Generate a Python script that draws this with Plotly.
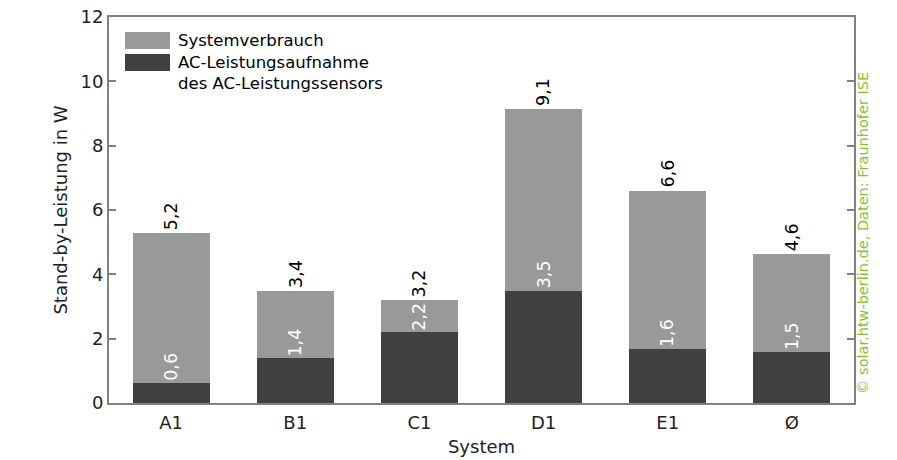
import plotly.graph_objects as go

categories = ["A1", "B1", "C1", "D1", "E1", "Ø"]
ac_sensor = [0.63, 1.39, 2.2, 3.49, 1.67, 1.58]
total = [5.28, 3.49, 3.2, 9.13, 6.6, 4.62]
system_rest = [t - a for t, a in zip(total, ac_sensor)]
total_labels = ["5,2", "3,4", "3,2", "9,1", "6,6", "4,6"]
ac_labels = ["0,6", "1,4", "2,2", "3,5", "1,6", "1,5"]
y_ticks = [0, 2, 4, 6, 8, 10, 12]

FONT = "DejaVu Sans"
GREY = "#999999"
DARK = "#404040"
AXIS = "#808080"

fig = go.Figure()
fig.add_trace(go.Bar(x=categories, y=ac_sensor, marker=dict(color=DARK, line=dict(width=0)),
                     name="AC-Leistungsaufnahme des AC-Leistungssensors", showlegend=False))
fig.add_trace(go.Bar(x=categories, y=system_rest, marker=dict(color=GREY, line=dict(width=0)),
                     name="Systemverbrauch", showlegend=False))

annotations = []
for c, t, lab in zip(categories, total, total_labels):
    annotations.append(dict(x=c, y=t, text=lab, textangle=-90, showarrow=False,
                            xanchor="center", yanchor="bottom", yshift=1,
                            font=dict(family=FONT, size=17.5, color="#000000")))
for c, a, lab in zip(categories, ac_sensor, ac_labels):
    annotations.append(dict(x=c, y=a, text=lab, textangle=-90, showarrow=False,
                            xanchor="center", yanchor="bottom", yshift=0,
                            font=dict(family=FONT, size=17.5, color="#ffffff")))

# legend (drawn manually)
legend_items = [("Systemverbrauch", GREY), ("AC-Leistungsaufnahme<br>des AC-Leistungssensors", DARK)]
shapes = []
lx0, lx1 = 125, 170
ly = [32, 54]
W, H = 897, 460
ml, mr, mt, mb = 109, 43, 17, 57
pw, ph = W - ml - mr, H - mt - mb
def px(x):
    return (x - ml) / pw
def py(y):
    return 1 - (y - mt) / ph
for (txt, col), y0 in zip(legend_items, ly):
    shapes.append(dict(type="rect", xref="paper", yref="paper",
                       x0=px(lx0), x1=px(lx1), y0=py(y0 + 17), y1=py(y0),
                       fillcolor=col, line=dict(width=0)))
    annotations.append(dict(xref="paper", yref="paper", x=px(176), y=py(y0 - 3),
                            text=txt, showarrow=False, xanchor="left", yanchor="top", align="left",
                            font=dict(family=FONT, size=16.5, color="#000000")))

annotations.append(dict(xref="paper", yref="paper", x=px(863), y=py(233),
                        text="© solar.htw-berlin.de, Daten: Fraunhofer ISE", textangle=-90,
                        showarrow=False, xanchor="center", yanchor="middle",
                        font=dict(family=FONT, size=14.5, color="#86c232")))

fig.update_layout(
    barmode="stack", bargap=0.38,
    width=W, height=H,
    margin=dict(l=ml, r=mr, t=mt, b=mb, pad=0, autoexpand=False),
    paper_bgcolor="white", plot_bgcolor="white",
    font=dict(family=FONT, size=18, color="#222222"),
    annotations=annotations, shapes=shapes,
    xaxis=dict(title=dict(text="System", standoff=9, font=dict(size=18)), automargin=False,
               showline=True, linecolor=AXIS, linewidth=2, mirror=True,
               ticks="", showgrid=False, tickfont=dict(size=18), ticklabelstandoff=2),
    yaxis=dict(title=dict(text="Stand-by-Leistung in W", standoff=8, font=dict(size=18)), automargin=False,
               range=[0, 12], tickvals=y_ticks, ticktext=[str(v) for v in y_ticks],
               showline=True, linecolor=AXIS, linewidth=2, mirror="allticks",
               ticks="inside", ticklen=7, tickcolor=AXIS, tickwidth=1.5,
               showgrid=False, zeroline=False, tickfont=dict(size=18)),
)

fig.write_html("out.html", config={"displayModeBar": False},
               post_script="document.body.style.margin='0';document.body.style.overflow='hidden';")
